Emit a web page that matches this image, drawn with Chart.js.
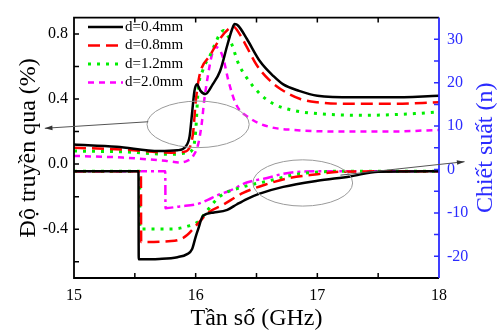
<!DOCTYPE html>
<html>
<head>
<meta charset="utf-8">
<script src="https://cdn.jsdelivr.net/npm/chart.js@4.4.0/dist/chart.umd.min.js"></script>
<style>
html, body { margin: 0; padding: 0; background: #fff; }
</style>
</head>
<body>
<canvas id="myChart" width="497" height="333"></canvas>
<script>
const seriesLabels = ['d=0.4mm', 'd=0.8mm', 'd=1.2mm', 'd=2.0mm'];

// transmission (left axis, %)
const freqT04 = [15.0, 15.35, 15.7, 15.85, 15.92, 15.95, 15.97, 15.99, 16.01, 16.04, 16.08, 16.14, 16.2, 16.26, 16.3, 16.32, 16.35, 16.42, 16.53, 16.64, 16.72, 16.85, 17.0, 17.3, 17.6, 18.0];
const transT04 = [0.12, 0.107, 0.08, 0.085, 0.11, 0.17, 0.31, 0.45, 0.49, 0.45, 0.43, 0.49, 0.57, 0.73, 0.83, 0.86, 0.85, 0.77, 0.63, 0.54, 0.49, 0.45, 0.42, 0.41, 0.41, 0.42];
const freqT08 = [15.0, 15.4, 15.8, 15.9, 15.95, 15.98, 16.0, 16.03, 16.12, 16.2, 16.27, 16.31, 16.36, 16.42, 16.5, 16.6, 16.7, 16.86, 17.0, 17.3, 17.6, 18.0];
const transT08 = [0.10, 0.09, 0.07, 0.075, 0.10, 0.20, 0.38, 0.54, 0.67, 0.77, 0.83, 0.845, 0.80, 0.72, 0.61, 0.52, 0.46, 0.40, 0.38, 0.37, 0.37, 0.38];
const freqT12 = [15.0, 15.4, 15.8, 15.93, 15.98, 16.0, 16.02, 16.06, 16.12, 16.16, 16.2, 16.23, 16.27, 16.3, 16.35, 16.42, 16.53, 16.64, 16.8, 17.0, 17.4, 17.8, 18.0];
const transT12 = [0.08, 0.075, 0.06, 0.07, 0.10, 0.20, 0.45, 0.58, 0.67, 0.74, 0.80, 0.82, 0.78, 0.73, 0.62, 0.53, 0.43, 0.37, 0.33, 0.31, 0.30, 0.31, 0.32];
const freqT20 = [15.0, 15.4, 15.75, 15.87, 15.93, 15.97, 16.02, 16.05, 16.07, 16.1, 16.13, 16.16, 16.2, 16.23, 16.27, 16.33, 16.45, 16.6, 16.8, 17.2, 17.6, 18.0];
const transT20 = [0.05, 0.04, 0.02, 0.01, 0.02, 0.04, 0.12, 0.25, 0.39, 0.54, 0.66, 0.72, 0.70, 0.64, 0.51, 0.37, 0.28, 0.23, 0.21, 0.20, 0.20, 0.21];

// refractive index (right axis, n)
const freqN04 = [15.0, 15.53, 15.532, 15.7, 15.85, 15.93, 15.97, 16.0, 16.02, 16.06, 16.15, 16.26, 16.34, 16.42, 16.52, 16.72, 17.0, 17.27, 17.5, 18.0];
const indexN04 = [-0.4, -0.4, -20.7, -20.6, -20.2, -19.5, -18.4, -15.5, -13.8, -10.7, -9.9, -9.3, -8.0, -6.8, -5.6, -4.0, -2.6, -1.6, -0.5, -0.4];
const freqN08 = [15.0, 15.55, 15.552, 15.8, 15.88, 15.93, 16.0, 16.04, 16.1, 16.22, 16.39, 16.57, 16.78, 17.0, 17.2, 18.0];
const indexN08 = [-0.4, -0.4, -16.7, -16.5, -16.0, -15.1, -13.0, -11.8, -10.0, -8.2, -5.4, -3.5, -1.9, -1.1, -0.5, -0.4];
const freqN12 = [15.0, 15.54, 15.542, 15.8, 15.93, 16.03, 16.08, 16.2, 16.39, 16.59, 16.83, 17.0, 17.2, 18.0];
const indexN12 = [-0.4, -0.4, -13.7, -13.7, -13.1, -11.8, -10.0, -6.2, -4.0, -2.7, -1.1, -0.6, -0.4, -0.4];
const freqN20 = [15.0, 15.75, 15.752, 15.87, 16.01, 16.1, 16.18, 16.28, 16.42, 16.58, 16.72, 16.86, 17.0, 18.0];
const indexN20 = [-0.4, -0.4, -8.9, -8.5, -8.0, -7.0, -5.9, -4.9, -3.0, -2.0, -1.0, -0.5, -0.4, -0.4];

// tick labels
const xTicks = [15, 16, 17, 18];
const leftTicks = [-0.4, 0.0, 0.4, 0.8];
const rightTicks = [-20, -10, 0, 10, 20, 30];

const serif = 'Liberation Serif';
const blue = '#2b2bff';

function pts(xs, ys) {
    return xs.map((x, i) => ({x: x, y: ys[i]}));
}

const colors = ['#000000', '#ff0000', '#00ee00', '#ff00ff'];
const dashes = [[], [12, 6], [3, 6], [6, 5]];
const widths = [2.5, 2.5, 3, 2.5];

const transSets = [[freqT04, transT04], [freqT08, transT08], [freqT12, transT12], [freqT20, transT20]];
const indexSets = [[freqN04, indexN04], [freqN08, indexN08], [freqN12, indexN12], [freqN20, indexN20]];

let datasets = [];
transSets.forEach((s, i) => {
    datasets.push({
        label: seriesLabels[i],
        data: pts(s[0], s[1]),
        yAxisID: 'y',
        borderColor: colors[i],
        borderDash: dashes[i],
        borderWidth: widths[i]
    });
});
indexSets.forEach((s, i) => {
    datasets.push({
        label: seriesLabels[i] + ' n',
        data: pts(s[0], s[1]),
        yAxisID: 'y2',
        borderColor: colors[i],
        borderDash: i == 3 ? [10, 4, 3, 4] : dashes[i],
        borderWidth: widths[i]
    });
});

// ellipses + arrows, in data units
const notes = [
    {axis: 'y', cx: 16.02, cy: 0.244, rx: 0.42, ry: 0.143, from: [15.61, 0.26], to: [14.76, 0.22]},
    {axis: 'y2', cx: 16.88, cy: -3.1, rx: 0.41, ry: 5.33, from: [17.19, -1.3], to: [18.21, 1.8]}
];

function arrow(ctx, x1, y1, x2, y2) {
    ctx.beginPath();
    ctx.moveTo(x1, y1);
    ctx.lineTo(x2, y2);
    ctx.stroke();
    const a = Math.atan2(y2 - y1, x2 - x1);
    ctx.beginPath();
    ctx.moveTo(x2, y2);
    ctx.lineTo(x2 - 8 * Math.cos(a - 0.3), y2 - 8 * Math.sin(a - 0.3));
    ctx.lineTo(x2 - 8 * Math.cos(a + 0.3), y2 - 8 * Math.sin(a + 0.3));
    ctx.closePath();
    ctx.fill();
}

const decor = {
    id: 'decor',
    afterDraw(chart) {
        const {ctx, chartArea: a, scales} = chart;
        const sx = scales.x, sl = scales.y, sr = scales.y2;
        ctx.save();

        // frame
        ctx.lineWidth = 1.8;
        ctx.strokeStyle = '#000';
        ctx.beginPath();
        ctx.moveTo(a.right, a.top);
        ctx.lineTo(a.left, a.top);
        ctx.lineTo(a.left, a.bottom);
        ctx.lineTo(a.right, a.bottom);
        ctx.stroke();
        ctx.strokeStyle = blue;
        ctx.beginPath();
        ctx.moveTo(a.right, a.top);
        ctx.lineTo(a.right, a.bottom);
        ctx.stroke();

        // inward ticks, minor + major
        ctx.lineWidth = 1.5;
        ctx.strokeStyle = '#000';
        ctx.beginPath();
        for (let v = 15.5; v < 18; v += 0.5) {
            const px = sx.getPixelForValue(v);
            ctx.moveTo(px, a.bottom); ctx.lineTo(px, a.bottom - 5);
            ctx.moveTo(px, a.top); ctx.lineTo(px, a.top + 5);
        }
        for (let v = -0.6; v < 0.85; v += 0.2) {
            const py = sl.getPixelForValue(v);
            ctx.moveTo(a.left, py); ctx.lineTo(a.left + 5, py);
        }
        ctx.stroke();
        ctx.strokeStyle = blue;
        ctx.beginPath();
        for (let v = -20; v <= 30; v += 5) {
            const py = sr.getPixelForValue(v);
            ctx.moveTo(a.right, py); ctx.lineTo(a.right - 5, py);
        }
        ctx.stroke();

        // right title, reading bottom to top
        ctx.fillStyle = blue;
        ctx.font = '24px "' + serif + '"';
        ctx.textAlign = 'center';
        ctx.textBaseline = 'middle';
        ctx.translate(486, (a.top + a.bottom) / 2);
        ctx.rotate(-Math.PI / 2);
        ctx.fillText('Chiết suất (n)', 0, 0);
        ctx.setTransform(1, 0, 0, 1, 0, 0);

        // ellipses and arrows
        notes.forEach(n => {
            const sy = scales[n.axis];
            const cx = sx.getPixelForValue(n.cx), cy = sy.getPixelForValue(n.cy);
            const rx = sx.getPixelForValue(n.cx + n.rx) - cx;
            const ry = cy - sy.getPixelForValue(n.cy + n.ry);
            ctx.strokeStyle = '#9a9a9a';
            ctx.lineWidth = 1;
            ctx.beginPath();
            ctx.ellipse(cx, cy, rx, ry, 0, 0, Math.PI * 2);
            ctx.stroke();
            ctx.strokeStyle = '#555';
            ctx.fillStyle = '#333';
            arrow(ctx,
                sx.getPixelForValue(n.from[0]), sy.getPixelForValue(n.from[1]),
                sx.getPixelForValue(n.to[0]), sy.getPixelForValue(n.to[1]));
        });

        // legend
        ctx.font = '15px "' + serif + '"';
        ctx.textAlign = 'left';
        ctx.textBaseline = 'middle';
        for (let i = 0; i < 4; i++) {
            const ds = chart.data.datasets[i];
            const y = 27 + i * 18.5;
            ctx.strokeStyle = ds.borderColor;
            ctx.lineWidth = ds.borderWidth;
            ctx.setLineDash(ds.borderDash);
            ctx.beginPath();
            ctx.moveTo(88, y);
            ctx.lineTo(123, y);
            ctx.stroke();
            ctx.setLineDash([]);
            ctx.fillStyle = '#000';
            ctx.fillText(ds.label, 125, y);
        }
        ctx.restore();
    }
};

const ctx = document.getElementById('myChart').getContext('2d');
const myChart = new Chart(ctx, {
    type: 'line',
    data: {datasets: datasets},
    options: {
        responsive: false,
        animation: false,
        layout: {padding: {top: 10, left: 0, right: 0, bottom: 0}},
        plugins: {legend: {display: false}, tooltip: {enabled: false}},
        elements: {
            point: {radius: 0},
            line: {cubicInterpolationMode: 'monotone', fill: false}
        },
        scales: {
            x: {
                type: 'linear', min: 15, max: 18,
                afterFit: s => { s.height = 55; },
                afterBuildTicks: s => { s.ticks = xTicks.map(v => ({value: v})); },
                grid: {display: false, drawTicks: false}, border: {display: false},
                ticks: {color: '#000', font: {family: serif, size: 16}, padding: 8, maxRotation: 0,
                        callback: v => String(v)},
                title: {display: true, text: 'Tần số (GHz)', color: '#000',
                        font: {family: serif, size: 24}, padding: {top: 0, bottom: 0}}
            },
            y: {
                type: 'linear', position: 'left', min: -0.7, max: 0.9,
                afterFit: s => { s.width = 74; },
                afterBuildTicks: s => { s.ticks = leftTicks.map(v => ({value: v})); },
                grid: {display: false, drawTicks: false}, border: {display: false},
                ticks: {color: '#000', font: {family: serif, size: 16}, padding: 6,
                        callback: v => v.toFixed(1)},
                title: {display: true, text: 'Độ truyền qua (%)', color: '#000',
                        font: {family: serif, size: 24}, padding: {top: 14, bottom: 0}}
            },
            y2: {
                type: 'linear', position: 'right', min: -25, max: 35,
                afterFit: s => { s.width = 58; },
                afterBuildTicks: s => { s.ticks = rightTicks.map(v => ({value: v})); },
                grid: {display: false, drawTicks: false}, border: {display: false},
                ticks: {color: blue, font: {family: serif, size: 16}, padding: 8,
                        callback: v => String(v)}
            }
        }
    },
    plugins: [decor]
});
</script>
</body>
</html>
